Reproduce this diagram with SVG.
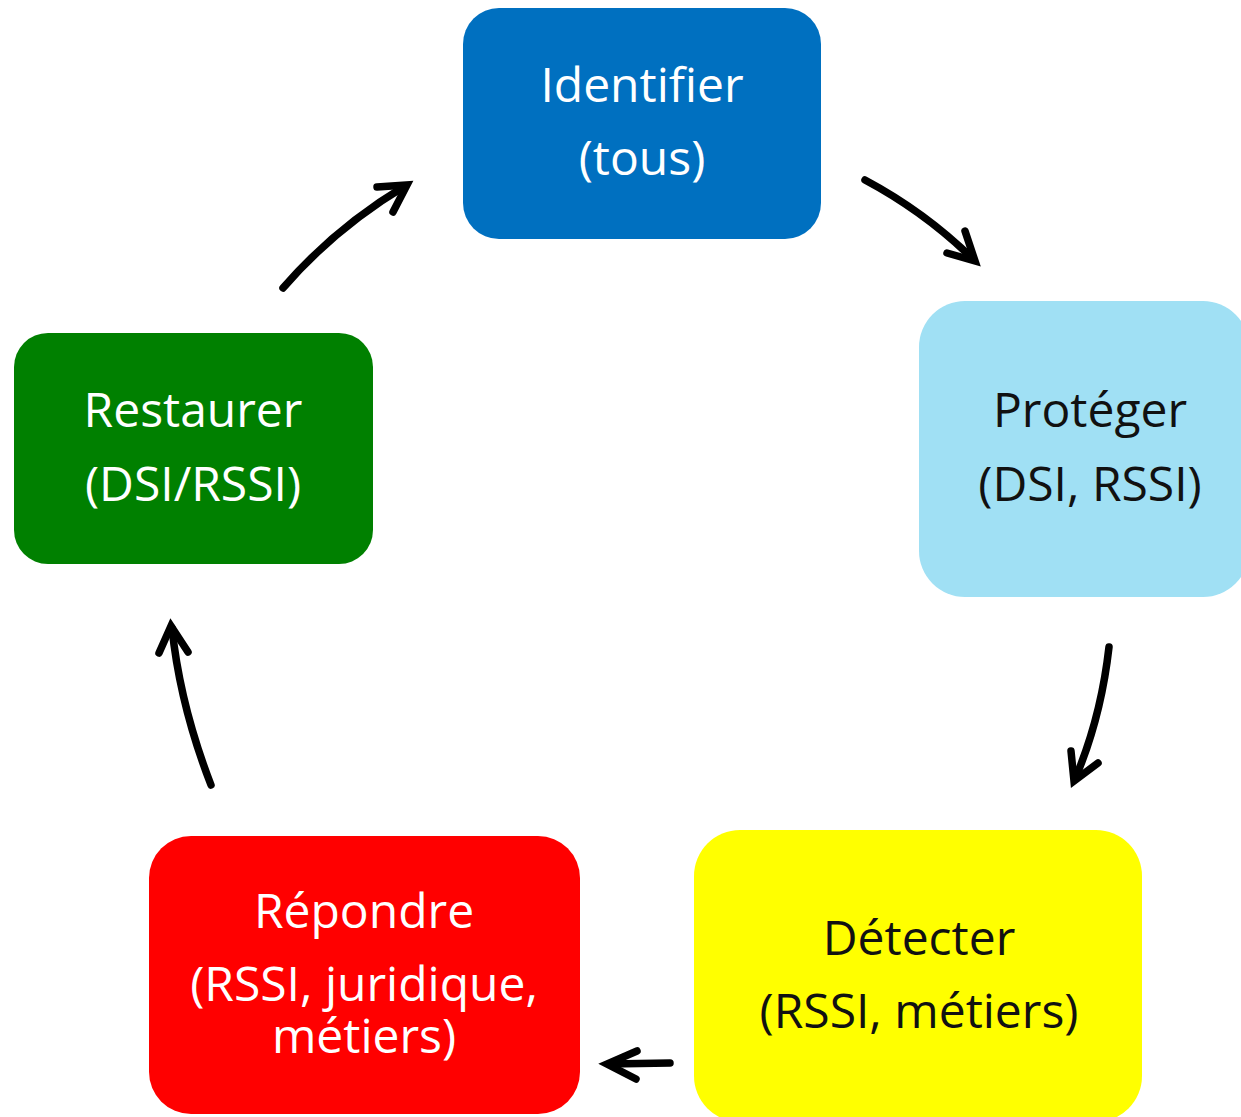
<svg xmlns="http://www.w3.org/2000/svg" width="1241" height="1117" viewBox="0 0 1241 1117">
<style>
.t{font-family:"Open Sans","Noto Sans","DejaVu Sans",sans-serif;font-size:48px;text-anchor:middle}
.w{fill:#ffffff}
.k{fill:#111111}
.c{fill:none;stroke:#000;stroke-width:7.5;stroke-linecap:round;stroke-linejoin:round}
.h{fill:none;stroke:#000;stroke-width:7.5;stroke-linecap:round;stroke-linejoin:miter;stroke-miterlimit:10}
</style>
<rect width="1241" height="1117" fill="#ffffff"/>
<g id="identifier">
<rect x="463" y="8" width="358" height="231" rx="36" fill="#0070C0"/>
<text class="t w" x="642" y="102">Identifier</text>
<text class="t w" x="642" y="175">(tous)</text>
</g>
<g id="proteger">
<rect x="919" y="301" width="330" height="296" rx="46" fill="#A0E0F4"/>
<text class="t k" x="1090" y="427">Protéger</text>
<text class="t k" x="1090" y="501">(DSI, RSSI)</text>
</g>
<g id="detecter">
<rect x="694" y="830" width="448" height="292" rx="46" fill="#FFFF00"/>
<text class="t k" x="919" y="955">Détecter</text>
<text class="t k" x="919" y="1028">(RSSI, métiers)</text>
</g>
<g id="repondre">
<rect x="149" y="836" width="431" height="278" rx="42" fill="#FF0000"/>
<text class="t w" x="364" y="928">Répondre</text>
<text class="t w" x="364" y="1001">(RSSI, juridique,</text>
<text class="t w" x="364" y="1053">métiers)</text>
</g>
<g id="restaurer">
<rect x="14" y="333" width="359" height="231" rx="34" fill="#008000"/>
<text class="t w" x="193" y="427">Restaurer</text>
<text class="t w" x="193" y="501">(DSI/RSSI)</text>
</g>
<g id="connectors">
<path class="c" d="M283,288 Q335,228 405,186"/>
<path class="h" d="M377,187 L407,185 L393,212"/>
<path class="c" d="M865,180 Q925,212 973,259"/>
<path class="h" d="M947,253 L975,261 L965,231"/>
<path class="c" d="M1109,647 Q1101,718 1075,779"/>
<path class="h" d="M1071,751 L1074,781 L1098,763"/>
<path class="c" d="M670,1063 L609,1064"/>
<path class="h" d="M637,1051 L607,1064 L636,1079"/>
<path class="c" d="M211,785 Q180,705 172,628"/>
<path class="h" d="M159,653 L171,626 L188,652"/>
</g>
</svg>
